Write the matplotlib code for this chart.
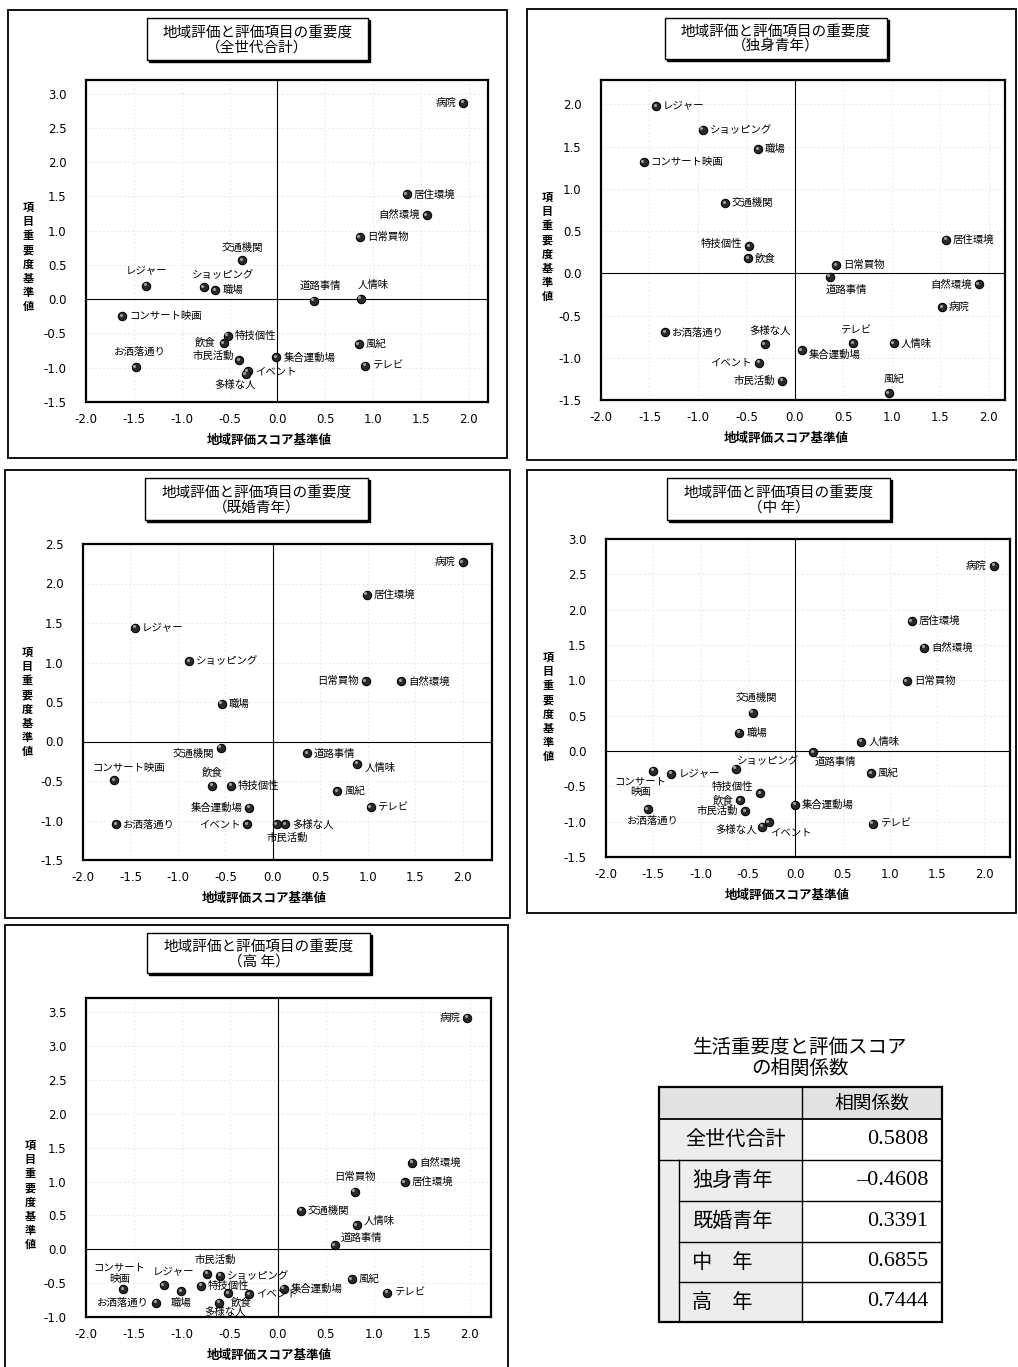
import matplotlib
matplotlib.use("Agg")
import matplotlib.pyplot as plt
from matplotlib.patches import Rectangle
from matplotlib.transforms import offset_copy

plt.rcParams['font.family'] = ['Noto Sans CJK JP', 'DejaVu Sans']

W, H = 1018, 1367

# --- data -------------------------------------------------------------------
ITEMS = ["病院", "居住環境", "自然環境", "日常買物", "交通機関", "レジャー",
         "ショッピング", "職場", "道路事情", "人情味", "コンサート映画", "特技個性",
         "飲食", "風紀", "お洒落通り", "市民活動", "集合運動場", "テレビ",
         "イベント", "多様な人"]

# 全世代合計
X_ALL = [1.94, 1.35, 1.56, 0.86, -0.37, -1.37, -0.77, -0.65, 0.38, 0.87,
         -1.62, -0.52, -0.56, 0.85, -1.48, -0.40, -0.01, 0.92, -0.31, -0.33]
Y_ALL = [2.87, 1.53, 1.23, 0.91, 0.57, 0.20, 0.18, 0.13, -0.02, 0.01,
         -0.25, -0.53, -0.64, -0.66, -0.99, -0.89, -0.85, -0.97, -1.05, -1.09]

# 独身青年
X_SINGLE = [1.52, 1.56, 1.90, 0.43, -0.72, -1.43, -0.95, -0.38, 0.36, 1.02,
            -1.56, -0.47, -0.48, 0.97, -1.34, -0.13, 0.07, 0.60, -0.37, -0.31]
Y_SINGLE = [-0.40, 0.40, -0.13, 0.10, 0.83, 1.98, 1.70, 1.47, -0.04, -0.83,
            1.32, 0.32, 0.18, -1.42, -0.70, -1.27, -0.91, -0.83, -1.06, -0.84]

# 既婚青年
X_MARRIED = [2.00, 0.99, 1.35, 0.98, -0.55, -1.45, -0.88, -0.54, 0.36, 0.89,
             -1.67, -0.44, -0.64, 0.68, -1.65, 0.04, -0.25, 1.03, -0.27, 0.13]
Y_MARRIED = [2.27, 1.86, 0.76, 0.76, -0.08, 1.44, 1.02, 0.48, -0.15, -0.28,
             -0.49, -0.56, -0.56, -0.63, -1.05, -1.05, -0.84, -0.83, -1.05, -1.05]

# 中年
X_MIDDLE = [2.10, 1.23, 1.36, 1.18, -0.45, -1.31, -0.63, -0.59, 0.19, 0.70,
            -1.50, -0.37, -0.58, 0.80, -1.56, -0.53, 0.00, 0.82, -0.28, -0.35]
Y_MIDDLE = [2.62, 1.84, 1.46, 0.99, 0.54, -0.32, -0.25, 0.26, -0.02, 0.13,
            -0.28, -0.60, -0.70, -0.31, -0.82, -0.85, -0.76, -1.03, -1.01, -1.07]

# 高年
X_SENIOR = [1.97, 1.32, 1.40, 0.80, 0.24, -1.19, -0.60, -1.01, 0.59, 0.82,
            -1.61, -0.80, -0.52, 0.77, -1.27, -0.74, 0.06, 1.14, -0.30, -0.61]
Y_SENIOR = [3.42, 0.99, 1.28, 0.85, 0.57, -0.53, -0.39, -0.62, 0.06, 0.36,
            -0.59, -0.54, -0.65, -0.44, -0.79, -0.36, -0.58, -0.64, -0.66, -0.79]

GROUPS = ["全世代合計", "独身青年", "既婚青年", "中 年", "高 年"]

TABLE_LABELS = ["全世代合計", "独身青年", "既婚青年", "中　年", "高　年"]
TABLE_VALUES = ["0.5808", "–0.4608", "0.3391", "0.6855", "0.7444"]

XTICKS = [-2.0, -1.5, -1.0, -0.5, 0.0, 0.5, 1.0, 1.5, 2.0]

# --- label placement ---------------------------------------------------------
OFFS = {
    'r': (5, 0, 'left', 'center'),
    'l': (-5, 0, 'right', 'center'),
    't': (0, 5, 'center', 'bottom'),
    'b': (0, -5, 'center', 'top'),
}

PLACE_ALL = ['l', 'r', 'l', 'r', 't', (0, 7, 'center', 'bottom'), (14, 5, 'center', 'bottom'),
             'r', (5, 7, 'center', 'bottom'), (9, 6, 'center', 'bottom'), 'r', 'r',
             (-6, 0, 'right', 'center'), 'r', (3, 7, 'center', 'bottom'),
             (-4, 3, 'right', 'center'), 'r', 'r', 'r', (-8, -4, 'center', 'top')]
PLACE_SINGLE = ['r', 'r', 'l', 'r', 'r', 'r', 'r', 'r', (12, -6, 'center', 'top'), 'r',
                'r', (-5, 2, 'right', 'center'), 'r', (4, 7, 'center', 'bottom'), 'r', 'l',
                (5, -3, 'left', 'center'), (2, 6, 'center', 'bottom'), 'l',
                (4, 6, 'center', 'bottom')]
PLACE_MARRIED = ['l', 'r', 'r', 'l', (-5, -1, 'right', 'top'), 'r', 'r', 'r', 'r',
                 (5, -3, 'left', 'center'), (10, 5, 'center', 'bottom'), 'r',
                 (0, 6, 'center', 'bottom'), 'r', 'r', (8, -6, 'center', 'top'), 'l', 'r',
                 'l', 'r']
PLACE_MIDDLE = ['l', 'r', 'r', 'r', (3, 7, 'center', 'bottom'), 'r', (1, 2, 'left', 'bottom'),
                'r', (1, -3, 'left', 'top'), 'r', (-9, -4, 'center', 'top'),
                (-5, 1, 'right', 'bottom'), 'l', 'r', (4, -5, 'center', 'top'), 'l', 'r',
                'r', (1, -4, 'left', 'top'), (-4, -2, 'right', 'center')]
PLACE_SENIOR = ['l', 'r', 'r', (0, 7, 'center', 'bottom'), 'r', (7, 6, 'center', 'bottom'),
                'r', (0, -5, 'center', 'top'), (4, 2, 'left', 'bottom'),
                (5, 3, 'left', 'center'), (-3, 4, 'center', 'bottom'), 'r',
                (2, -3, 'left', 'top'), 'r', 'l', (6, 6, 'center', 'bottom'), 'r', 'r', 'r',
                (4, -3, 'center', 'top')]

# panel geometry in pixels: frame, title box, axes (l, t, r, b), ylabel pos
PANELS = [
    dict(x=X_ALL, y=Y_ALL, place=PLACE_ALL, split=False,
         xlim=(-2.0, 2.2), ylim=(-1.5, 3.2), yt=(-1.5, 3.0),
         frame=(8, 10, 507, 458), tbox=(147, 18, 368, 60), ax=(86, 80, 488, 402), yl=(28, 257)),
    dict(x=X_SINGLE, y=Y_SINGLE, place=PLACE_SINGLE, split=False,
         xlim=(-1.97, 2.17), ylim=(-1.5, 2.29), yt=(-1.5, 2.0),
         frame=(527, 9, 1016, 460), tbox=(665, 18, 887, 59), ax=(601, 80, 1005, 400), yl=(547, 247)),
    dict(x=X_MARRIED, y=Y_MARRIED, place=PLACE_MARRIED, split=False,
         xlim=(-2.0, 2.31), ylim=(-1.5, 2.5), yt=(-1.5, 2.5),
         frame=(5, 470, 510, 918), tbox=(145, 478, 368, 520), ax=(83, 544, 492, 860), yl=(27, 702)),
    dict(x=X_MIDDLE, y=Y_MIDDLE, place=PLACE_MIDDLE, split=True,
         xlim=(-1.97, 2.27), ylim=(-1.5, 3.0), yt=(-1.5, 3.0),
         frame=(527, 470, 1016, 913), tbox=(667, 478, 890, 520), ax=(606, 539, 1010, 857), yl=(548, 707)),
    dict(x=X_SENIOR, y=Y_SENIOR, place=PLACE_SENIOR, split=True,
         xlim=(-1.99, 2.22), ylim=(-1.0, 3.71), yt=(-1.0, 3.5),
         frame=(5, 925, 508, 1380), tbox=(147, 933, 370, 973), ax=(86, 998, 491, 1317), yl=(30, 1195)),
]


def fx(x):
    return x / W


def fy(y):
    return 1 - y / H


def fig_rect(fig, x0, y0, x1, y1, **kw):
    fig.patches.append(Rectangle((fx(x0), fy(y1)), (x1 - x0) / W, (y1 - y0) / H,
                                 transform=fig.transFigure, figure=fig, **kw))


fig = plt.figure(figsize=(W / 100, H / 100), dpi=100)
fig.patch.set_facecolor('white')

for group, p in zip(GROUPS, PANELS):
    # outer frame
    fx0, fy0, fx1, fy1 = p['frame']
    fig_rect(fig, fx0, fy0, fx1, fy1, fill=False, ec='black', lw=1.3)

    # title box with shadow
    tx0, ty0, tx1, ty1 = p['tbox']
    fig_rect(fig, tx0 + 2, ty0 + 2, tx1 + 2, ty1 + 2, fc='black', ec='black', lw=1.0, zorder=2)
    fig_rect(fig, tx0, ty0, tx1, ty1, fc='white', ec='black', lw=1.0, zorder=3)
    fig.text(fx((tx0 + tx1) / 2), fy((ty0 + ty1) / 2 + 1),
             f"地域評価と評価項目の重要度\n（{group}）", ha='center', va='center',
             fontsize=10.5, linespacing=1.05, zorder=4)

    l, t, r, b = p['ax']
    ax = fig.add_axes([fx(l), fy(b), (r - l) / W, (b - t) / H])
    ax.set_xlim(*p['xlim'])
    ax.set_ylim(*p['ylim'])
    ax.set_xticks(XTICKS)
    ax.set_xticklabels([f"{v:.1f}" for v in XTICKS], family='DejaVu Sans')
    yt = []
    v = p['yt'][0]
    while v <= p['yt'][1] + 1e-9:
        yt.append(round(v, 1))
        v += 0.5
    ax.set_yticks(yt)
    ax.set_yticklabels([f"{v:.1f}" for v in yt], family='DejaVu Sans')
    ax.tick_params(length=0, labelsize=8.5, pad=8)
    ax.tick_params(axis='y', pad=14)
    ax.grid(True, color='#e4e4e4', ls=(0, (2, 3)), lw=0.6)
    for s in ax.spines.values():
        s.set_linewidth(1.6)
    ax.axhline(0, color='black', lw=0.8, zorder=2)
    ax.axvline(0, color='black', lw=0.8, zorder=2)

    ax.scatter(p['x'], p['y'], s=36, c='#2a2a2a', edgecolors='black', linewidths=0.8, zorder=3)
    hl = offset_copy(ax.transData, fig=fig, x=-1.0, y=1.0, units='points')
    ax.scatter(p['x'], p['y'], s=5, c='#a0a0a0', linewidths=0, zorder=4, transform=hl)

    for name, xv, yv, pl in zip(ITEMS, p['x'], p['y'], p['place']):
        if p['split'] and name == "コンサート映画":
            name = "コンサート\n映画"
        dx, dy, ha, va = OFFS[pl] if isinstance(pl, str) else pl
        ax.annotate(name, (xv, yv), xytext=(dx, dy), textcoords='offset points',
                    ha=ha, va=va, fontsize=7.5, linespacing=1.1, zorder=5)

    ax.annotate("地域評価スコア基準値", xy=(0, 0), xycoords=('data', 'axes fraction'),
                xytext=(-6, -28), textcoords='offset points', ha='center', va='center',
                fontsize=9, fontweight='bold', annotation_clip=False)
    fig.text(fx(p['yl'][0]), fy(p['yl'][1]), "\n".join("項目重要度基準値"),
             ha='center', va='center', fontsize=8, fontweight='bold', linespacing=1.12)

# --- correlation table ----------------------------------------------------------
fig.text(fx(800), fy(1058), "生活重要度と評価スコア\nの相関係数", ha='center', va='center',
         fontsize=14, linespacing=1.05)

tl, tt, tw, th = 659, 1087, 283, 235
tax = fig.add_axes([fx(tl), fy(tt + th), tw / W, th / H])
tax.set_xlim(0, tw)
tax.set_ylim(th, 0)
tax.axis('off')
col = 143
strip = 20
row_edges = [0, 32, 73, 114, 155, 195, 235]

tax.add_patch(Rectangle((0, 0), tw, 32, fc='#e2e2e2', ec='none'))
tax.add_patch(Rectangle((0, 32), col, th - 32, fc='#ededed', ec='none'))
tax.add_patch(Rectangle((col, 32), tw - col, th - 32, fc='white', ec='none'))
tax.add_patch(Rectangle((0, 0), tw, th, fill=False, ec='black', lw=1.6, clip_on=False))
tax.plot([col, col], [0, th], color='black', lw=1.0)
tax.plot([0, tw], [32, 32], color='black', lw=1.3)
tax.plot([0, tw], [73, 73], color='black', lw=1.0)
tax.plot([strip, strip], [73, th], color='black', lw=1.0)
for yy in row_edges[3:-1]:
    tax.plot([strip, tw], [yy, yy], color='black', lw=1.0)

tax.text((col + tw) / 2, 16, "相関係数", ha='center', va='center', fontsize=13.5)
for i, (lab, val) in enumerate(zip(TABLE_LABELS, TABLE_VALUES)):
    yc = (row_edges[i + 1] + row_edges[i + 2]) / 2
    tax.text(26 if i == 0 else 33, yc, lab, ha='left', va='center', fontsize=14.5)
    tax.text(269, yc, val, ha='right', va='center', fontsize=16,
             family='Liberation Serif')

fig.savefig("out.png", dpi=100, facecolor='white')
